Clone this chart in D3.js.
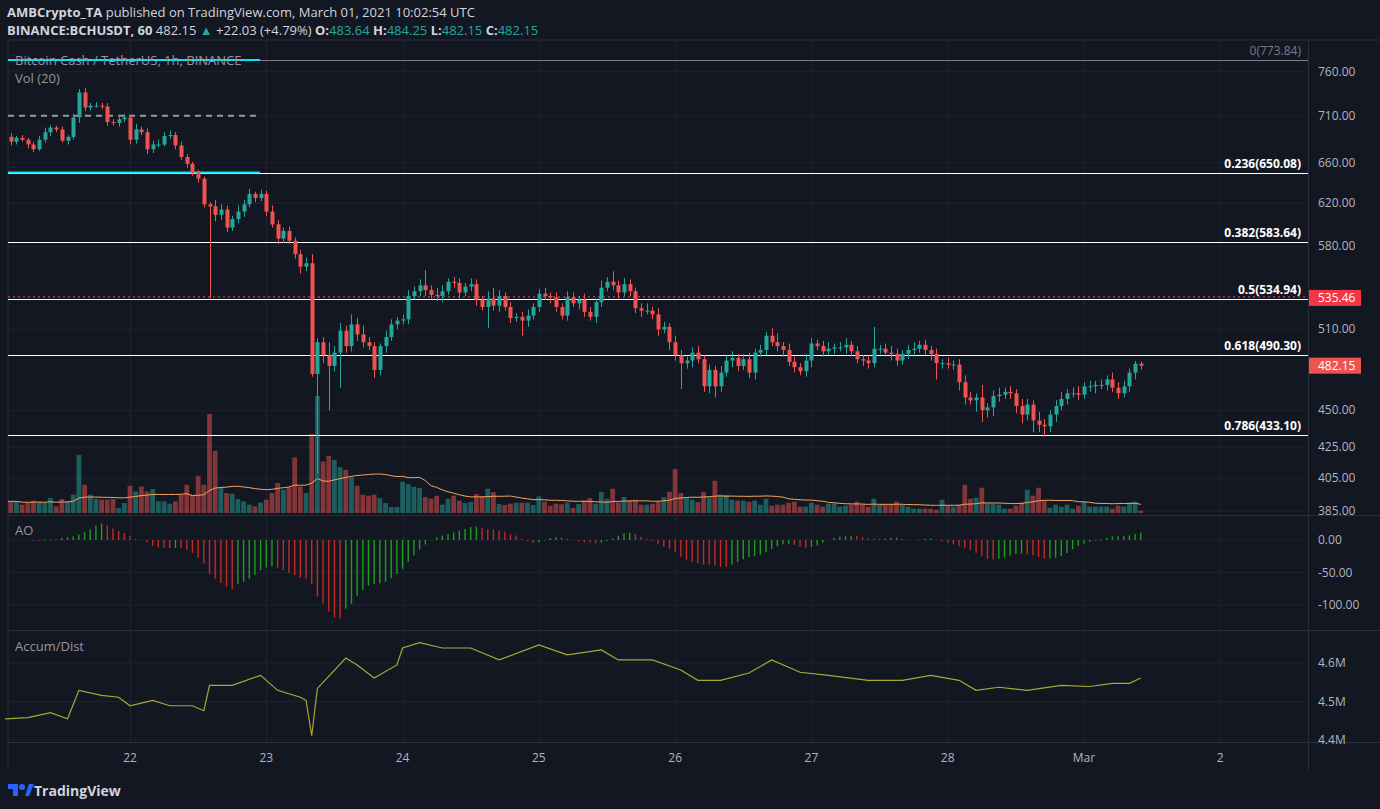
<!DOCTYPE html>
<html>
<head>
<meta charset="utf-8">
<script src="https://cdn.jsdelivr.net/npm/d3@7"></script>
<style>
  body { margin: 0; background: #131722; }
  svg text { font-family: "Open Sans", "Noto Sans", sans-serif; }
</style>
</head>
<body>
<svg id="chart" width="1380" height="809"></svg>
<script>
// hourly candles, index 0 = Feb 21 02:00 UTC, index 190 = Mar 1 00:00
var closes = [687,682,686,684,679,674,684,692,697,695,683,687,708,736,719,721,721,720,703,702,706,708,684,695,692,674,679,679,688,689,678,666,659,650,644,619,617,609,614,597,605,612,619,629,625,629,612,600,587,594,585,573,562,565,476,500,490,482,492,509,497,514,506,500,497,479,
  497,504,514,517,518,537,541,546,542,538,537,541,549,548,540,545,547,534,528,535,529,537,528,519,520,517,521,528,539,537,536,528,521,536,531,534,524,520,532,544,549,546,540,547,541,527,525,525,522,510,512,500,490,484,486,492,487,467,479,467,477,486,488,482,487,477,492,494,505,500,497,
  494,485,481,478,486,499,497,493,495,496,496,498,493,487,486,484,495,495,492,491,486,491,494,495,498,494,491,484,484,483,483,470,459,457,459,450,452,460,461,463,462,453,447,454,443,440,439,447,453,458,462,462,461,467,467,468,468,472,466,462,467,477,483.64,482.15];
var firstOpen = 692;
var upWick = [3,4,2,3,2,3,4,5,3,2,3,2,4,4,5,3,4,3,4,3,5,4,2,6,3,4,4,5,4,5,3,4,3,2,3,2,2,6,5,4,3,6,4,5,2,4,3,6,4,3,4,3,4,5,8,3,4,10,5,6,4,8,5,7,4,3,
  2,5,4,3,4,5,4,5,13,4,6,5,3,4,4,3,5,4,3,6,9,5,3,4,3,4,5,3,4,5,3,4,3,5,4,3,5,4,3,6,4,9,4,5,4,3,4,6,3,5,4,3,5,4,3,4,5,3,4,3,5,4,5,3,4,5,3,4,3,6,7,
  3,5,4,3,5,4,3,4,5,3,4,5,3,4,3,4,17,3,4,5,4,3,4,5,3,4,3,4,3,4,3,4,5,4,3,9,3,4,5,3,4,3,5,4,3,6,4,3,4,5,3,4,5,3,4,3,4,3,5,4,4,3,2,1.5,0.6,0.1];
var downWick = [3,4,3,2,4,3,2,3,4,3,2,4,3,6,4,3,2,3,4,3,4,3,5,4,3,5,4,3,2,3,4,3,4,3,4,3,82,6,5,4,3,4,5,3,4,3,4,3,5,4,3,4,6,4,2,68,6,32,4,26,5,4,5,4,3,6,
  4,5,3,4,3,4,3,4,5,3,4,5,3,4,5,3,4,5,3,17,4,5,3,4,3,12,5,3,4,3,5,4,3,4,3,5,4,3,5,4,3,4,5,3,4,4,5,3,4,5,3,6,4,19,4,5,3,4,5,8,4,3,5,4,3,4,5,3,4,3,
  4,5,3,4,3,4,5,3,4,3,4,3,5,4,3,4,4,3,4,3,5,4,3,4,5,3,4,5,12,4,3,4,6,5,3,8,8,5,6,4,3,4,5,6,4,8,5,7,4,5,3,4,3,4,3,4,5,3,4,3,4,3,4,5,3,4,3,1,0];
var volume = [35,35,35,25,30,37,32,30,45,20,42,35,55,175,85,55,42,40,40,42,15,30,82,65,80,65,72,35,35,28,35,55,85,55,112,85,298,187,78,60,58,42,35,25,20,32,40,60,90,70,77,167,80,60,238,352,155,172,160,138,130,108,82,55,52,55,
  45,30,18,18,94,87,79,75,48,43,52,25,43,52,37,30,33,57,50,73,63,27,24,28,31,31,31,24,50,34,22,28,26,31,15,27,37,45,28,63,43,73,32,48,38,40,25,25,28,33,48,64,132,60,47,40,33,63,47,97,55,55,40,37,37,34,37,25,43,22,25,
  25,31,34,19,19,31,25,19,28,28,19,22,25,34,25,19,43,25,25,25,34,25,19,13,13,13,13,10,40,22,19,25,85,43,46,76,28,28,25,13,13,22,31,70,52,76,37,16,25,19,25,13,22,34,19,19,19,19,13,22,19,31,34,7];
var adIndex = [0,4,8,11,13,17,20,22,26,29,33,35,36,40,45,48,52,53,54,55,60,62,65,69,70,73,77,82,87,94,99,105,108,114,119,122,126,131,135,140,145,152,158,163,168,171,175,180,186,191,195,198,200];
var adValue = [4.455,4.458,4.471,4.455,4.529,4.516,4.511,4.489,4.503,4.489,4.489,4.476,4.542,4.542,4.568,4.529,4.511,4.503,4.411,4.534,4.613,4.595,4.561,4.595,4.639,4.653,4.639,4.639,4.608,4.647,4.621,4.634,4.608,4.608,4.582,4.555,4.555,4.574,4.608,4.576,4.568,4.555,4.555,4.568,4.555,4.529,4.537,4.529,4.542,4.539,4.547,4.547,4.561];
var fibRatios = ["0", "0.236", "0.382", "0.5", "0.618", "0.786"];
var fibPrices = [773.84, 650.08, 583.64, 534.94, 490.30, 433.10];
var priceTicks = [760, 710, 660, 620, 580, 510, 450, 425, 405, 385];
var aoTicks = [0, -50, -100];
var adTicks = [4.6, 4.5, 4.4];
var dayIndex = [22, 46, 70, 94, 118, 142, 166, 190, 214];
var dayLabels = ["22", "23", "24", "25", "26", "27", "28", "Mar", "2"];
var alertLine = 535.46;

var UP = "#26a69a", DOWN = "#ef5350", GRID = "#1e222d", TXT = "#b2b5be";
var svg = d3.select("#chart");
var left = 8, right = 1308;

var candles = closes.map(function (c, i) {
    var o = i === 0 ? firstOpen : closes[i - 1];
    return { i: i, o: o, c: c, h: Math.max(o, c) + upWick[i], l: Math.min(o, c) - downWick[i], v: volume[i] };
});

var x = d3.scaleLinear().domain([22, 190]).range([130, 1084]);
var y = d3.scaleLog().domain([433.1, 773.84]).range([435, 60]);
var yVol = d3.scaleLinear().domain([0, 352]).range([513, 396]);
var yAo = d3.scaleLinear().domain([-100, 0]).range([605, 540]);
var yAd = d3.scaleLinear().domain([4.4, 4.6]).range([740, 663]);
function cx(i) { return Math.round(x(i)) + 0.5; }

svg.append("rect").attr("width", 1380).attr("height", 809).attr("fill", "#131722");

// panes
var panes = [[40, 515], [516, 630], [631, 742]];
var grid = svg.append("g");
panes.forEach(function (p) {
    dayIndex.forEach(function (d) {
        grid.append("line").attr("x1", cx(d)).attr("x2", cx(d)).attr("y1", p[0]).attr("y2", p[1]).attr("stroke", GRID);
    });
});
priceTicks.forEach(function (t) {
    grid.append("line").attr("x1", left).attr("x2", right).attr("y1", y(t)).attr("y2", y(t)).attr("stroke", GRID);
});
aoTicks.forEach(function (t) {
    grid.append("line").attr("x1", left).attr("x2", right).attr("y1", yAo(t)).attr("y2", yAo(t)).attr("stroke", GRID);
});
adTicks.forEach(function (t) {
    grid.append("line").attr("x1", left).attr("x2", right).attr("y1", yAd(t)).attr("y2", yAd(t)).attr("stroke", GRID);
});
[40, 515.5, 630.5, 742.5].forEach(function (yy) {
    svg.append("line").attr("x1", left).attr("x2", 1380).attr("y1", yy).attr("y2", yy).attr("stroke", "#2a2e39");
});
svg.append("line").attr("x1", left).attr("x2", left).attr("y1", 40).attr("y2", 770).attr("stroke", "#2a2e39");
svg.append("line").attr("x1", right + 0.5).attr("x2", right + 0.5).attr("y1", 40).attr("y2", 770).attr("stroke", "#2a2e39");

svg.append("clipPath").attr("id", "main").append("rect").attr("x", left).attr("y", 41).attr("width", right - left).attr("height", 474);
var main = svg.append("g").attr("clip-path", "url(#main)");

// volume
main.selectAll(".vol").data(candles).enter().append("rect")
    .attr("x", function (d) { return x(d.i) - 2.4; })
    .attr("width", 4.8)
    .attr("y", function (d) { return yVol(d.v); })
    .attr("height", function (d) { return yVol(0) - yVol(d.v); })
    .attr("fill", function (d) { return d.c >= d.o ? "rgba(38,166,154,0.5)" : "rgba(239,83,80,0.5)"; });
var volMa = candles.map(function (d, i) {
    var s = candles.slice(Math.max(0, i - 19), i + 1);
    return { i: i, v: d3.mean(s, function (e) { return e.v; }) };
});
main.append("path").datum(volMa)
    .attr("d", d3.line().x(function (d) { return x(d.i); }).y(function (d) { return yVol(d.v); }))
    .attr("fill", "none").attr("stroke", "#f7a35c").attr("stroke-width", 1);

// drawn levels
main.append("line").attr("x1", left).attr("x2", 260).attr("y1", y(710)).attr("y2", y(710))
    .attr("stroke", "#9598a1").attr("stroke-width", 2).attr("stroke-dasharray", "6,5");
fibPrices.forEach(function (p, k) {
    main.append("line").attr("x1", left).attr("x2", right).attr("y1", Math.round(y(p)) + 0.5).attr("y2", Math.round(y(p)) + 0.5)
        .attr("stroke", k === 0 ? "#787b86" : "#ffffff").attr("stroke-width", 1);
    svg.append("text").attr("x", 1301).attr("y", y(p) - 5).attr("text-anchor", "end")
        .attr("font-size", 12).attr("font-weight", k === 0 ? "normal" : "bold")
        .attr("fill", k === 0 ? "#787b86" : "#ffffff")
        .text(fibRatios[k] + "(" + p.toFixed(2) + ")");
});
main.append("line").attr("x1", left).attr("x2", right).attr("y1", y(alertLine) - 1).attr("y2", y(alertLine) - 1)
    .attr("stroke", DOWN).attr("stroke-dasharray", "2,3");
[773.84, 650.08].forEach(function (p) {
    main.append("line").attr("x1", left).attr("x2", 260).attr("y1", y(p)).attr("y2", y(p))
        .attr("stroke", "#00e5ff").attr("stroke-width", 2);
});

// candles
var cg = main.selectAll(".c").data(candles).enter().append("g");
cg.append("line")
    .attr("x1", function (d) { return cx(d.i); }).attr("x2", function (d) { return cx(d.i); })
    .attr("y1", function (d) { return y(d.h); }).attr("y2", function (d) { return y(d.l); })
    .attr("stroke", function (d) { return d.c >= d.o ? UP : DOWN; });
cg.append("rect")
    .attr("x", function (d) { return cx(d.i) - 2; }).attr("width", 4)
    .attr("y", function (d) { return y(Math.max(d.o, d.c)); })
    .attr("height", function (d) { return Math.max(1, Math.abs(y(d.o) - y(d.c))); })
    .attr("fill", function (d) { return d.c >= d.o ? UP : DOWN; });

// AO
var med = candles.map(function (d) { return (d.h + d.l) / 2; });
function sma(arr, i, n) { var s = arr.slice(Math.max(0, i - n + 1), i + 1); return d3.mean(s); }
var ao = med.map(function (m, i) { return { i: i, v: sma(med, i, 5) - sma(med, i, 34) }; });
svg.selectAll(".ao").data(ao).enter().append("line")
    .attr("x1", function (d) { return x(d.i); }).attr("x2", function (d) { return x(d.i); })
    .attr("y1", yAo(0)).attr("y2", function (d) { return yAo(d.v); })
    .attr("stroke-width", 1.4)
    .attr("stroke", function (d) { return d.i === 0 || d.v >= ao[d.i - 1].v ? "#1e9e1e" : "#c62828"; });

// Accum/Dist
svg.append("path").datum(adIndex.map(function (d, k) { return [d, adValue[k]]; }))
    .attr("d", d3.line().x(function (d) { return x(d[0]); }).y(function (d) { return yAd(d[1]); }))
    .attr("fill", "none").attr("stroke", "#a9a833").attr("stroke-width", 1.2);

// right axes
function rlabel(yy, t) {
    svg.append("text").attr("x", 1318).attr("y", yy + 4).attr("font-size", 12).attr("fill", TXT).text(t);
}
priceTicks.forEach(function (t) { rlabel(y(t), t.toFixed(2)); });
aoTicks.forEach(function (t) { rlabel(yAo(t), t.toFixed(2)); });
adTicks.forEach(function (t) { rlabel(yAd(t), t.toFixed(1) + "M"); });
function tag(p, col) {
    svg.append("rect").attr("x", 1309).attr("y", y(p) - 8).attr("width", 52).attr("height", 16).attr("fill", col);
    svg.append("text").attr("x", 1318).attr("y", y(p) + 4).attr("font-size", 12).attr("fill", "#fff").text(p.toFixed(2));
}
tag(alertLine, "#f23645");
tag(closes[closes.length - 1], DOWN);

// x axis
dayIndex.forEach(function (d, k) {
    svg.append("text").attr("x", x(d)).attr("y", 762).attr("text-anchor", "middle")
        .attr("font-size", 12).attr("fill", TXT).text(dayLabels[k]);
});

// legends
function ltext(xx, yy, t, size, col) {
    return svg.append("text").attr("x", xx).attr("y", yy).attr("font-size", size).attr("fill", col).text(t);
}
ltext(15, 65, "Bitcoin Cash / TetherUS, 1h, BINANCE", 13, "#9598a1");
ltext(15, 83, "Vol (20)", 13, "#9598a1");
ltext(15, 535, "AO", 13, "#9598a1");
ltext(15, 651, "Accum/Dist", 13, "#9598a1");

var h1 = svg.append("text").attr("x", 7).attr("y", 17).attr("font-size", 13).attr("fill", "#d1d4dc");
h1.append("tspan").attr("font-weight", "bold").text("AMBCrypto_TA");
h1.append("tspan").text(" published on TradingView.com, March 01, 2021 10:02:54 UTC");
var h2 = svg.append("text").attr("x", 7).attr("y", 35).attr("font-size", 13).attr("fill", "#d1d4dc").attr("font-weight", "bold");
h2.append("tspan").text("BINANCE:BCHUSDT, 60 ");
h2.append("tspan").attr("font-weight", "normal").text(" 482.15 ");
h2.append("tspan").attr("fill", UP).text("▲");
h2.append("tspan").attr("font-weight", "normal").text(" +22.03 (+4.79%) ");
[["O:", "483.64"], ["H:", "484.25"], ["L:", "482.15"], ["C:", "482.15"]].forEach(function (p) {
    h2.append("tspan").text(p[0]);
    h2.append("tspan").attr("font-weight", "normal").attr("fill", UP).text(p[1] + " ");
});

// footer logo
var logo = svg.append("g").attr("transform", "translate(8,782)");
logo.append("path").attr("d", "M0 2 H10 V14 H5 V7 H0 Z").attr("fill", "#2962ff");
logo.append("circle").attr("cx", 14).attr("cy", 5).attr("r", 3).attr("fill", "#2962ff");
logo.append("path").attr("d", "M17 14 L21 2 H26 L21 14 Z").attr("fill", "#2962ff");
ltext(34, 796, "TradingView", 14, "#d1d4dc").attr("font-weight", "bold");
</script>
</body>
</html>
